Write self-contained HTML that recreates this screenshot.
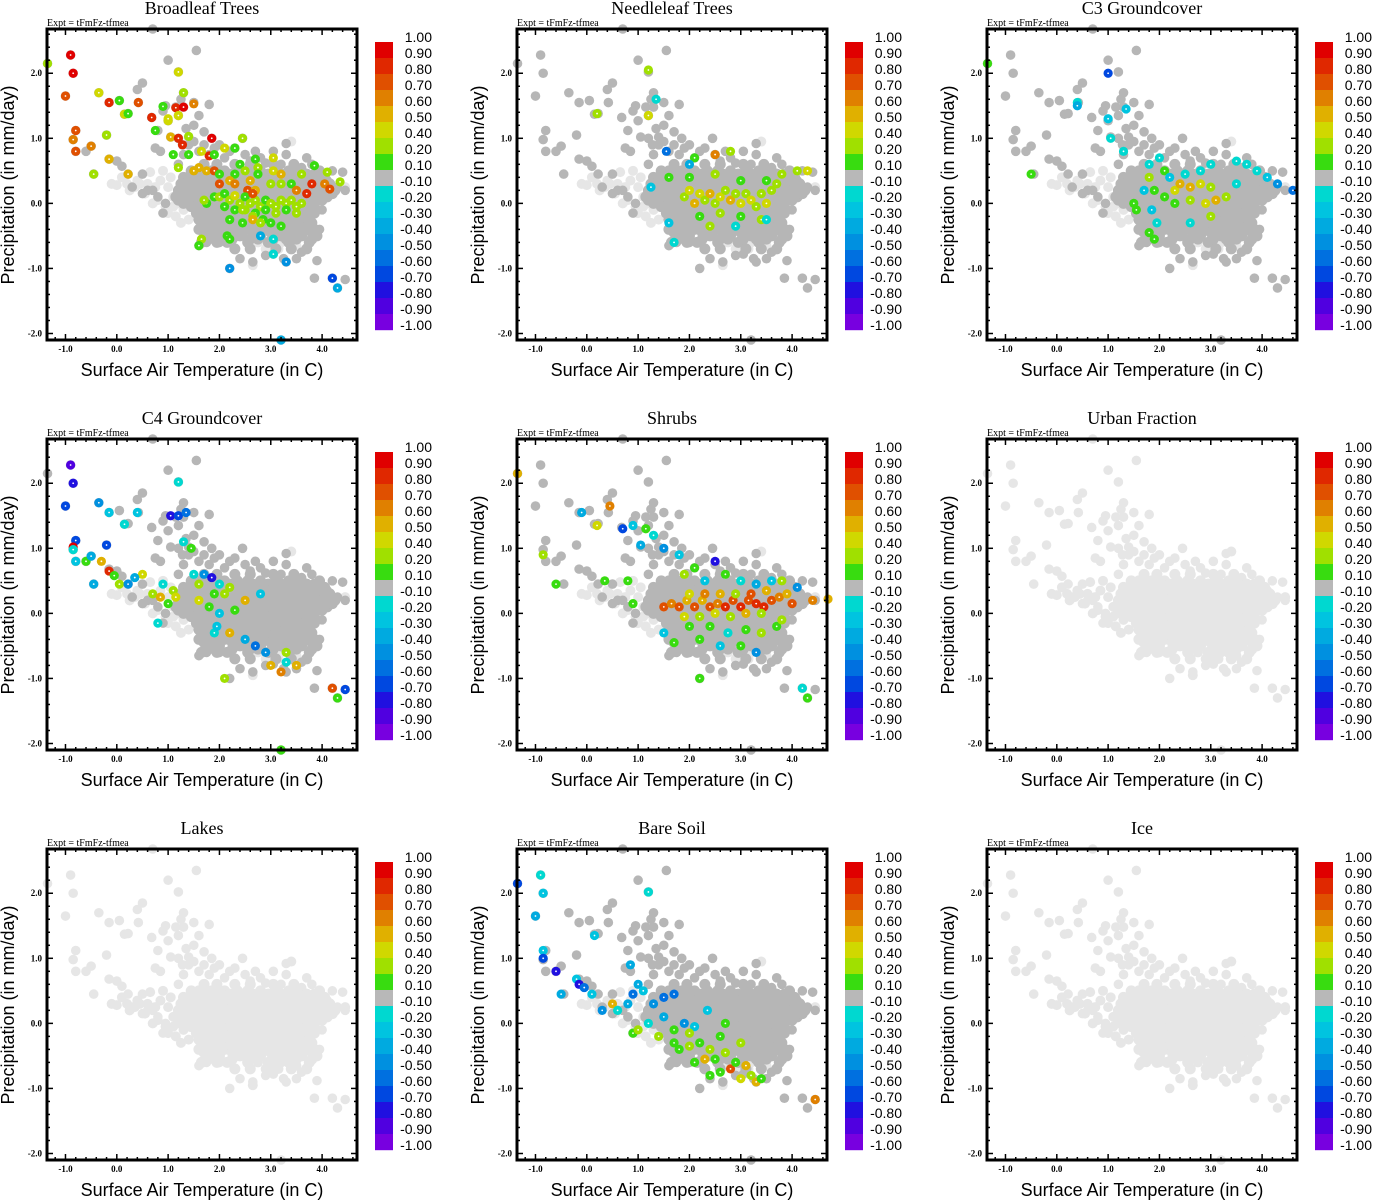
<!DOCTYPE html>
<html><head><meta charset="utf-8">
<style>
html,body{margin:0;padding:0;background:#fff;}
svg{display:block;}
.ttl{font-family:"Liberation Serif",serif;font-size:18px;}
.expt{font-family:"Liberation Serif",serif;font-size:10px;}
.tk{font-family:"Liberation Serif",serif;font-size:9px;font-weight:bold;}
.ax{font-family:"Liberation Sans",sans-serif;font-size:18px;}
.cb{font-family:"Liberation Sans",sans-serif;font-size:14px;}
</style></head>
<body>
<svg id="chart" width="1373" height="1200" xmlns="http://www.w3.org/2000/svg"></svg>
<script>
// ---------- data ----------
const panelTitles = ["Broadleaf Trees","Needleleaf Trees","C3 Groundcover","C4 Groundcover","Shrubs","Urban Fraction","Lakes","Bare Soil","Ice"];
const panelActive = [true,true,true,true,true,false,false,true,false];
const xTicks = [-1,0,1,2,3,4];
const xTickLabels = ["-1.0","0.0","1.0","2.0","3.0","4.0"];
const yTicks = [2,1,0,-1,-2];
const yTickLabels = ["2.0","1.0","0.0","-1.0","-2.0"];
const cbBounds = [1,0.9,0.8,0.7,0.6,0.5,0.4,0.2,0.1,-0.1,-0.2,-0.3,-0.4,-0.5,-0.6,-0.7,-0.8,-0.9,-1];
const cbLabels = ["1.00","0.90","0.80","0.70","0.60","0.50","0.40","0.20","0.10","-0.10","-0.20","-0.30","-0.40","-0.50","-0.60","-0.70","-0.80","-0.90","-1.00"];
const cbColors = ["#e00000","#e02800","#e05000","#e08000","#e0b000","#d0d800","#a0e000","#38dc10","#b8b8b8","#00d8d0","#00c4e0","#00aae0","#0090e0","#0070e0","#0048e0","#2010e0","#5000e0","#7800e0"];

const outlierPts = [[-1.35,2.15],[-0.9,2.28],[-0.85,2.0],[-1.0,1.65],[-0.8,1.12],[-0.85,0.98],[-0.8,0.8],[-0.5,0.88],[-0.6,0.8],[-0.45,0.45],[-0.35,1.7],[-0.2,1.05],[-0.15,1.55],[-0.15,0.68],[0.05,1.58],[0.0,0.65],[0.1,0.57],[0.15,1.37],[0.22,1.38],[0.22,0.45],[0.4,1.75],[0.42,1.55],[0.5,1.85],[0.68,1.32],[0.8,1.12],[0.9,1.42],[0.95,1.5],[1.0,1.27],[1.0,2.2],[1.2,2.02],[1.15,1.48],[1.2,1.35],[1.3,1.7],[1.25,1.6],[1.3,1.48],[1.5,1.55],[1.55,2.35],[1.8,1.52],[0.7,2.68],[1.05,1.02],[1.2,1.0],[1.28,0.9],[1.4,1.02],[1.85,1.0],[2.45,1.0],[0.75,0.85],[0.85,0.8],[0.8,0.1],[0.95,0.0],[0.9,-0.15],[2.2,-1.0],[3.2,-2.1],[3.25,-0.85],[3.3,-0.9],[3.85,-1.15],[4.2,-1.15],[4.3,-1.3],[4.45,-1.17],[3.9,-0.88],[2.65,-0.9],[3.05,-0.78],[3.05,0.8],[3.3,0.75],[3.3,0.92],[3.7,0.7],[4.4,0.48],[4.45,0.2],[4.2,0.5],[4.3,0.25],[0.5,0.45],[0.3,0.25],[0.6,0.2],[0.5,0.15],[0.7,0.2],[1.4,0.9],[1.6,0.8],[1.8,0.75],[2.0,0.9],[2.1,0.7],[2.3,0.85],[2.5,0.75],[2.7,0.8],[2.8,0.7],[1.5,1.2],[1.7,1.1],[1.9,0.85],[1.3,0.75],[1.2,0.6],[3.6,0.55],[3.8,0.6],[1.35,1.15],[1.6,1.35],[1.6,-0.65],[1.75,-0.6],[2.0,-0.6],[2.4,-0.85],[2.9,-0.8],[3.5,-0.85],[3.6,-0.75],[1.5,0.95],[1.7,0.9],[2.2,0.8],[2.6,0.65],[2.9,0.62],[3.2,0.6],[3.9,0.45],[4.1,0.35],[4.0,-0.1],[3.95,-0.4]];
const coreY = [0.6,0.5,0.4,0.3,0.2,0.1,0.0,-0.1,-0.2,-0.3,-0.4,-0.5,-0.6,-0.7];
const coreX = [
 [1.7,1.95,2.3,2.6,3.05,3.45],
 [1.45,1.6,1.85,2.1,2.35,2.55,2.8,3.1,3.35,3.6,3.95],
 [1.3,1.5,1.7,1.9,2.05,2.25,2.45,2.7,2.9,3.15,3.3,3.55,3.75,4.05],
 [1.25,1.45,1.6,1.8,2.0,2.2,2.35,2.55,2.75,2.95,3.1,3.3,3.5,3.7,3.9,4.15],
 [1.2,1.35,1.55,1.75,1.9,2.1,2.3,2.5,2.65,2.85,3.05,3.25,3.4,3.6,3.8,4.0,4.25],
 [1.15,1.35,1.5,1.7,1.85,2.05,2.2,2.4,2.6,2.8,2.95,3.15,3.35,3.55,3.7,3.9,4.1],
 [1.3,1.55,1.65,1.8,2.0,2.15,2.35,2.55,2.7,2.9,3.1,3.25,3.45,3.6,3.8],
 [1.6,1.75,1.95,2.1,2.3,2.5,2.65,2.85,3.0,3.2,3.4,3.55,3.75],
 [1.65,1.85,2.0,2.2,2.4,2.6,2.8,2.95,3.15,3.35,3.5,3.7],
 [1.7,1.9,2.1,2.3,2.45,2.65,2.85,3.05,3.25,3.45,3.65,3.8],
 [1.6,1.85,2.1,2.6,2.9,3.1,3.3,3.5,3.7,3.85],
 [1.8,2.0,2.4,2.8,3.2,3.4,3.6,3.9],
 [1.65,1.95,2.15,2.55,2.95,3.35,3.75],
 [2.3,2.6,3.1,3.4,3.7]];
const core2Y = [0.45,0.35,0.25,0.15,0.05,-0.05,-0.15,-0.25,-0.35,-0.45,-0.55];
const core2X = [
 [1.55,1.75,2.0,2.2,2.45,2.65,2.95,3.2,3.45,3.7,3.85],
 [1.4,1.6,1.8,1.95,2.15,2.35,2.6,2.8,3.0,3.2,3.45,3.65,3.85,4.0],
 [1.3,1.5,1.7,1.9,2.1,2.25,2.45,2.65,2.85,3.0,3.2,3.4,3.6,3.8,4.05],
 [1.25,1.45,1.65,1.8,2.0,2.15,2.35,2.55,2.75,2.9,3.1,3.3,3.5,3.65,3.85,4.05,4.2],
 [1.2,1.4,1.6,1.75,1.95,2.1,2.3,2.5,2.7,2.85,3.05,3.25,3.45,3.6,3.8,4.0],
 [1.45,1.65,1.85,2.05,2.2,2.45,2.6,2.8,3.0,3.2,3.35,3.55,3.7,3.85],
 [1.55,1.7,1.9,2.05,2.25,2.45,2.7,2.9,3.1,3.3,3.45,3.65,3.85],
 [1.6,1.8,1.95,2.15,2.35,2.55,2.75,2.9,3.1,3.3,3.55,3.75],
 [1.75,1.95,2.2,2.4,2.55,2.75,2.95,3.15,3.35,3.55,3.75],
 [1.7,1.95,2.25,2.45,2.7,3.0,3.2,3.45,3.6,3.8],
 [1.9,2.25,2.6,2.75,3.05,3.3,3.5,3.8]];
const lightPts = [[0.0,0.28],[0.2,0.3],[0.35,0.25],[0.55,0.15],[0.6,0.3],[0.75,0.25],[0.9,0.5],[1.0,0.25],[1.1,0.1],[1.2,0.0],[1.3,-0.1],[1.15,-0.2],[0.95,-0.05],[1.0,-0.15],[1.4,0.3],[0.65,0.48],[2.6,-0.55],[3.0,-0.65],[3.2,-0.6],[3.5,-0.65],[2.75,-0.6],[-0.1,0.3],[0.4,0.35],[0.8,0.05],[1.1,-0.05],[4.45,0.25],[2.65,-0.95],[3.4,0.95],[2.3,-0.45],[0.1,0.4],[0.25,0.2],[0.45,0.3],[0.85,0.35],[1.05,0.4],[1.25,0.2],[1.35,0.05],[0.7,0.0],[1.4,-0.25],[1.25,-0.3],[2.9,-0.7],[3.15,-0.7]];

const vals0 = [[-1.35,2.15,0.3],[-0.9,2.28,0.9],[-0.85,2.0,0.9],[-1.0,1.65,0.75],[-0.8,1.12,0.75],[-0.85,0.98,0.6],[-0.8,0.8,0.75],[-0.5,0.88,0.6],[-0.45,0.45,0.3],[-0.35,1.7,0.45],[-0.2,1.05,0.3],[-0.15,1.55,0.85],[-0.15,0.68,0.55],[0.05,1.58,0.15],[0.15,1.37,0.45],[0.22,1.38,0.15],[0.22,0.45,0.55],[0.42,1.55,0.75],[0.68,1.32,0.85],[0.75,1.12,0.15],[0.9,1.49,0.15],[1.0,1.27,0.45],[1.0,1.3,0.45],[1.2,2.02,0.45],[1.15,1.47,0.8],[1.3,1.48,0.9],[1.2,1.35,0.45],[1.3,1.7,0.3],[1.5,1.53,0.65],[1.05,1.02,0.55],[1.2,1.0,0.85],[1.28,0.9,0.8],[1.4,1.03,0.3],[1.85,1.0,0.95],[2.45,1.0,0.3],[1.1,0.75,0.15],[1.2,0.55,0.3],[1.4,0.75,0.15],[1.5,0.5,0.5],[1.6,0.55,0.55],[1.75,0.5,0.55],[1.8,0.73,0.85],[1.65,0.8,0.45],[1.9,0.75,0.15],[1.9,0.5,0.75],[2.0,0.45,0.15],[2.1,0.85,0.45],[2.3,0.85,0.15],[2.3,0.45,0.15],[2.4,0.6,0.15],[2.5,0.5,0.3],[2.2,0.35,0.55],[2.0,0.3,0.7],[2.3,0.3,0.6],[2.6,0.35,0.55],[2.7,0.68,0.15],[2.75,0.55,0.3],[2.75,0.45,0.15],[3.05,0.7,0.45],[3.05,0.5,0.45],[3.2,0.45,0.55],[3.0,0.3,0.3],[3.2,0.3,0.3],[3.4,0.3,0.15],[3.6,0.45,0.3],[3.85,0.58,0.15],[4.1,0.48,0.3],[4.35,0.33,0.3],[3.8,0.3,0.85],[4.05,0.3,0.6],[4.15,0.22,0.7],[3.7,0.15,0.85],[3.5,0.2,0.6],[2.55,0.2,0.7],[2.7,0.2,0.55],[1.75,0.0,0.15],[1.7,0.05,0.3],[1.9,0.1,0.15],[2.0,0.1,0.3],[2.1,0.15,0.15],[2.2,0.05,0.3],[2.3,0.12,0.45],[2.4,0.0,0.3],[2.5,0.1,0.15],[2.6,0.0,0.3],[2.7,0.05,0.3],[2.8,-0.05,0.3],[2.9,0.05,0.15],[3.0,0.0,0.3],[3.1,-0.05,0.3],[3.2,0.05,0.3],[3.3,0.0,0.3],[3.4,0.05,0.3],[3.5,-0.05,0.3],[3.6,0.0,0.3],[2.1,-0.05,0.15],[2.3,-0.1,0.15],[2.5,-0.1,0.3],[2.7,-0.15,0.15],[2.9,-0.1,0.15],[3.1,-0.15,0.3],[3.3,-0.1,0.15],[3.5,-0.15,0.3],[2.2,-0.25,0.15],[2.45,-0.3,0.15],[2.65,-0.2,0.3],[2.85,-0.25,0.15],[3.0,-0.3,0.15],[3.2,-0.35,0.15],[2.65,-0.25,0.55],[2.8,-0.3,0.3],[2.15,-0.5,0.15],[2.2,-0.55,0.15],[1.65,-0.55,0.3],[1.6,-0.65,0.15],[3.05,-0.55,-0.2],[2.8,-0.5,-0.4],[3.05,-0.78,-0.2],[2.2,-1.0,-0.5],[3.3,-0.9,-0.5],[4.2,-1.15,-0.65],[4.3,-1.3,-0.35],[3.2,-2.1,-0.4],[2.45,-0.1,0.3],[2.65,0.15,0.7]];
const vals1 = [[1.2,2.05,0.3],[1.2,1.35,0.45],[0.2,1.38,0.3],[1.35,1.6,-0.2],[2.1,0.7,0.15],[2.5,0.75,0.6],[1.25,0.25,-0.3],[1.6,0.4,0.15],[1.9,0.1,0.3],[2.0,0.2,0.45],[2.1,0.0,0.55],[2.2,0.15,0.45],[2.3,0.05,0.3],[2.4,0.15,0.5],[2.5,0.0,0.3],[2.6,0.1,0.45],[2.7,0.2,0.3],[2.8,0.05,0.55],[2.9,0.15,0.3],[3.0,0.0,0.45],[3.1,0.15,0.3],[3.2,0.05,0.45],[3.3,-0.05,0.3],[3.4,0.15,0.3],[3.5,0.0,0.45],[3.6,0.2,0.3],[2.0,0.4,0.15],[2.5,0.45,0.3],[3.0,0.35,0.15],[3.5,0.35,0.15],[3.8,0.45,0.3],[4.1,0.5,0.3],[2.2,-0.2,0.15],[2.6,-0.15,0.3],[3.0,-0.2,0.15],[3.4,-0.25,0.3],[1.6,-0.3,-0.3],[2.9,-0.35,-0.2],[1.7,-0.6,-0.2],[3.5,-0.25,-0.2],[2.0,0.6,-0.4],[1.55,0.8,-0.6],[2.8,0.8,0.3],[3.7,0.3,0.3],[4.3,0.5,0.45],[2.4,-0.35,0.3]];
const vals2 = [[-1.35,2.15,0.15],[-0.5,0.45,0.15],[0.4,1.55,-0.2],[1.0,2.0,-0.7],[1.0,1.3,-0.3],[1.35,1.45,-0.3],[0.4,1.5,-0.4],[1.05,1.0,-0.2],[1.3,0.8,-0.2],[1.8,0.6,-0.2],[2.0,0.7,-0.2],[2.1,0.5,0.15],[1.8,0.4,0.3],[2.2,0.4,-0.3],[2.5,0.45,-0.2],[2.8,0.5,-0.2],[3.0,0.6,-0.2],[3.5,0.65,-0.2],[3.7,0.6,-0.2],[4.1,0.4,-0.3],[4.3,0.3,-0.5],[4.6,0.2,-0.6],[3.5,0.3,-0.2],[3.9,0.5,-0.2],[1.9,0.2,0.15],[2.1,0.1,0.15],[2.3,0.2,0.4],[2.4,0.3,0.5],[2.6,0.25,0.55],[2.8,0.3,0.45],[3.0,0.25,0.3],[2.3,0.0,0.15],[2.6,0.05,0.3],[2.9,0.0,0.45],[3.1,0.05,0.5],[3.3,0.1,0.3],[1.5,0.0,0.15],[1.55,-0.1,0.15],[1.85,-0.1,-0.3],[1.7,0.2,-0.3],[1.95,-0.3,-0.2],[1.9,-0.55,0.15],[1.8,-0.45,0.15],[2.6,-0.3,-0.2],[3.0,-0.2,0.3]];
const vals3 = [[-0.9,2.28,-0.9],[-0.85,2.0,-0.8],[-1.0,1.65,-0.7],[-0.8,1.12,-0.7],[-0.85,1.02,0.9],[-0.85,0.98,-0.2],[-0.8,0.8,-0.3],[-0.6,0.8,0.15],[-0.5,0.88,-0.4],[-0.45,0.45,-0.4],[-0.35,1.7,-0.5],[-0.2,1.05,-0.7],[-0.15,1.55,-0.3],[-0.3,0.8,0.55],[-0.15,0.65,0.8],[-0.05,0.58,0.15],[0.05,0.45,0.3],[0.22,0.45,-0.5],[0.15,1.37,-0.2],[0.4,1.55,-0.3],[0.5,0.6,0.45],[0.7,0.3,0.3],[0.85,0.25,0.55],[0.9,0.45,-0.2],[0.8,-0.15,-0.2],[1.0,0.15,0.15],[1.1,0.35,0.2],[1.2,2.02,-0.2],[1.05,1.5,-0.8],[1.2,1.5,-0.7],[1.35,1.55,-0.6],[1.3,1.1,-0.2],[1.45,1.0,0.15],[1.5,0.6,-0.2],[1.6,0.45,0.3],[1.7,0.6,-0.5],[1.85,0.55,-0.8],[1.9,0.3,0.15],[2.0,0.45,-0.2],[2.1,0.3,0.3],[2.2,0.4,0.2],[1.6,0.2,0.45],[1.8,0.1,0.15],[2.0,0.0,-0.3],[2.3,0.05,0.15],[2.5,0.2,0.55],[2.8,0.3,-0.3],[1.9,-0.3,-0.2],[2.2,-0.3,0.5],[2.5,-0.4,-0.4],[2.7,-0.5,-0.6],[2.9,-0.6,-0.5],[3.0,-0.8,0.55],[3.3,-0.6,0.3],[3.3,-0.75,-0.2],[3.5,-0.8,0.55],[3.2,-0.9,0.6],[2.1,-1.0,0.3],[4.2,-1.15,0.75],[4.45,-1.17,-0.7],[4.3,-1.3,0.15],[3.2,-2.1,0.15],[1.95,-0.2,-0.3],[1.15,0.25,0.4],[0.35,0.55,-0.4]];
const vals4 = [[-1.35,2.15,0.55],[-0.85,0.9,0.3],[-0.6,0.45,0.15],[-0.1,1.55,-0.4],[0.2,1.35,0.45],[0.35,0.5,0.15],[0.45,1.65,0.6],[0.7,1.3,-0.7],[0.9,1.35,-0.3],[0.8,0.5,0.15],[0.9,0.15,0.15],[1.05,1.05,-0.4],[1.15,1.3,0.15],[1.3,1.2,-0.2],[1.5,1.0,-0.5],[1.8,0.9,-0.3],[1.9,0.6,0.3],[2.1,0.7,0.15],[2.3,0.5,-0.3],[2.5,0.8,-0.8],[2.7,0.6,0.15],[3.0,0.5,-0.2],[3.3,0.45,-0.4],[3.6,0.5,-0.3],[3.8,0.5,0.3],[4.1,0.4,-0.5],[4.7,0.22,0.55],[4.4,0.2,0.6],[1.5,0.1,0.7],[1.65,0.15,0.6],[1.8,0.1,0.7],[1.95,0.2,0.55],[2.1,0.1,0.75],[2.25,0.2,0.5],[2.4,0.1,0.7],[2.55,0.15,0.6],[2.7,0.1,0.8],[2.85,0.2,0.7],[3.0,0.1,0.85],[3.15,0.2,0.75],[3.3,0.15,0.85],[3.45,0.1,0.8],[3.6,0.2,0.75],[3.75,0.25,0.65],[3.9,0.3,0.55],[2.0,0.3,0.45],[2.3,0.3,0.6],[2.6,0.3,0.5],[2.9,0.3,0.3],[3.2,0.3,0.7],[3.5,0.35,0.55],[1.9,-0.05,0.4],[2.2,-0.05,0.3],[2.5,0.0,0.45],[2.8,-0.05,0.3],[3.1,0.0,0.5],[3.4,0.0,0.3],[2.0,-0.2,0.15],[2.4,-0.2,0.15],[2.75,-0.3,-0.2],[3.1,-0.25,0.15],[3.4,-0.3,0.3],[3.7,-0.2,0.15],[2.2,-0.4,0.15],[2.6,-0.5,-0.3],[3.0,-0.5,0.15],[3.3,-0.6,-0.5],[2.2,-1.0,0.15],[4.2,-1.15,-0.2],[4.3,-1.3,0.15],[1.5,-0.3,-0.3],[1.7,-0.45,0.15],[3.8,-0.1,0.3],[4.0,0.15,0.7]];
const vals5 = [];
const vals6 = [];
const vals7 = [[-1.35,2.15,-0.7],[-0.9,2.28,-0.2],[-0.85,2.0,-0.3],[-1.0,1.65,-0.4],[-0.85,1.12,-0.3],[-0.85,1.0,-0.7],[-0.6,0.8,-0.8],[-0.5,0.45,-0.4],[-0.2,0.68,-0.3],[-0.15,0.6,-0.8],[-0.05,0.55,-0.6],[0.1,0.45,-0.3],[0.15,1.35,-0.3],[0.3,0.2,-0.5],[0.5,0.3,0.55],[0.6,0.2,-0.2],[0.8,0.3,-0.4],[0.9,0.45,-0.6],[1.0,0.6,-0.4],[1.2,2.02,-0.2],[0.85,0.9,-0.4],[1.1,0.5,-0.3],[1.3,0.3,-0.5],[1.5,0.4,-0.6],[1.7,0.45,-0.6],[0.9,-0.15,0.15],[1.0,-0.1,0.3],[1.2,0.0,-0.2],[1.4,-0.2,0.3],[1.5,0.1,-0.4],[1.7,-0.1,0.15],[1.9,0.0,-0.5],[2.1,-0.05,-0.3],[1.7,-0.3,0.15],[1.8,-0.4,0.15],[2.0,-0.35,0.3],[2.2,-0.3,0.15],[2.4,-0.4,0.3],[2.1,-0.6,0.15],[2.3,-0.55,0.55],[2.5,-0.55,0.15],[2.7,-0.45,0.3],[2.8,-0.7,0.7],[2.9,-0.6,0.15],[3.0,-0.85,0.4],[3.1,-0.65,0.5],[3.2,-0.8,0.3],[3.3,-0.9,0.55],[3.4,-0.85,0.15],[2.6,-0.75,0.15],[2.4,-0.8,0.15],[4.45,-1.17,0.6],[2.0,-0.15,0.3],[2.6,-0.2,0.15],[3.0,-0.3,0.3],[2.35,0.2,-0.3],[2.7,0.0,0.15]];
const vals8 = [];
const panelVals = [vals0,vals1,vals2,vals3,vals4,vals5,vals6,vals7,vals8];

// ---------- drawing ----------
const NS = "http://www.w3.org/2000/svg";
const svg = document.getElementById("chart");
const X0=47, PW=310, Y0=29, PH=311, XMIN=-1.36, XMAX=4.68, YMIN=-2.1, YMAX=2.68;
function mk(tag, attrs, parent){const e=document.createElementNS(NS,tag);for(const k in attrs)e.setAttribute(k,attrs[k]);(parent||svg).appendChild(e);return e;}
function colorFor(v){for(let i=0;i<cbColors.length;i++){if(v<=cbBounds[i]&&v>=cbBounds[i+1])return cbColors[i];}return cbColors[cbColors.length-1];}

panelTitles.forEach((title,p)=>{
  const ox=(p%3)*470, oy=Math.floor(p/3)*410;
  const sx=x=>ox+X0+(x-XMIN)/(XMAX-XMIN)*PW;
  const sy=y=>oy+Y0+(YMAX-y)/(YMAX-YMIN)*PH;
  const g=mk("g",{});
  
  
  const t=mk("text",{x:ox+202,y:oy+14,"text-anchor":"middle",class:"ttl"},g);t.textContent=title;
  
  
  const ex=mk("text",{x:ox+47,y:oy+26,class:"expt"},g);ex.textContent="Expt = tFmFz-tfmea";
  
  
  const pts=mk("g",{},g);
  
  
  const lightC="#e6e6e6", darkC=panelActive[p]?"#b6b6b6":lightC;
  lightPts.forEach(d=>{const c=mk("circle",{cx:sx(d[0]),cy:sy(d[1]),r:5,fill:lightC},pts);
    
    });
  outlierPts.forEach(d=>{const c=mk("circle",{cx:sx(d[0]),cy:sy(d[1]),r:4.8,fill:darkC},pts);
    
    });
  coreY.forEach((yv,i)=>coreX[i].forEach(xv=>{const c=mk("circle",{cx:sx(xv),cy:sy(yv),r:5.5,fill:darkC},pts);
    
    }));
  core2Y.forEach((yv,i)=>core2X[i].forEach(xv=>{const c=mk("circle",{cx:sx(xv),cy:sy(yv),r:5.5,fill:darkC},pts);
    
    }));
  panelVals[p].forEach(d=>{const c=mk("circle",{cx:sx(d[0]),cy:sy(d[1]),r:4.6,fill:colorFor(d[2])},pts);
    
    
    mk("circle",{cx:sx(d[0]),cy:sy(d[1]),r:0.9,fill:"#fff"},pts);});
  const fr=mk("rect",{x:ox+X0,y:oy+Y0,width:PW,height:PH,fill:"none",stroke:"#000","stroke-width":3},g);
  
  
  for(let v=-1.2;v<=4.61;v+=0.2){const X=sx(v);const major=Math.abs(v-Math.round(v))<0.01;const L=major?6:3;
    mk("line",{x1:X,x2:X,y1:oy+Y0,y2:oy+Y0+L,stroke:"#000","stroke-width":1.5},g);
    mk("line",{x1:X,x2:X,y1:oy+Y0+PH,y2:oy+Y0+PH-L,stroke:"#000","stroke-width":1.5},g);}
  for(let v=-2.0;v<=2.61;v+=0.2){const Y=sy(v);const major=Math.abs(v-Math.round(v))<0.01;const L=major?6:3;
    mk("line",{y1:Y,y2:Y,x1:ox+X0,x2:ox+X0+L,stroke:"#000","stroke-width":1.5},g);
    mk("line",{y1:Y,y2:Y,x1:ox+X0+PW,x2:ox+X0+PW-L,stroke:"#000","stroke-width":1.5},g);}
  xTicks.forEach((v,i)=>{const tx=mk("text",{x:sx(v),y:oy+352,"text-anchor":"middle",class:"tk"},g);tx.textContent=xTickLabels[i];
    
    });
  yTicks.forEach((v,i)=>{const tx=mk("text",{x:ox+42,y:sy(v)+3,"text-anchor":"end",class:"tk"},g);tx.textContent=yTickLabels[i];
    
    });
  const xl=mk("text",{x:ox+202,y:oy+376,"text-anchor":"middle",class:"ax"},g);xl.textContent="Surface Air Temperature (in C)";
  
  
  const yl=mk("text",{x:0,y:0,"text-anchor":"middle",class:"ax",transform:`translate(${ox+14},${oy+185}) rotate(-90)`},g);yl.textContent="Precipitation (in mm/day)";
  
  
  const cb=mk("g",{},g);
  
  
  cbColors.forEach((c,i)=>{const r=mk("rect",{x:ox+375,y:oy+42+i*16,width:18,height:16.2,fill:c},cb);
    
    });
  cbLabels.forEach((l,i)=>{const tx=mk("text",{x:ox+432,y:oy+42+i*16,"text-anchor":"end",class:"cb"},cb);tx.textContent=l;
    
    });
});
</script>
</body></html>
